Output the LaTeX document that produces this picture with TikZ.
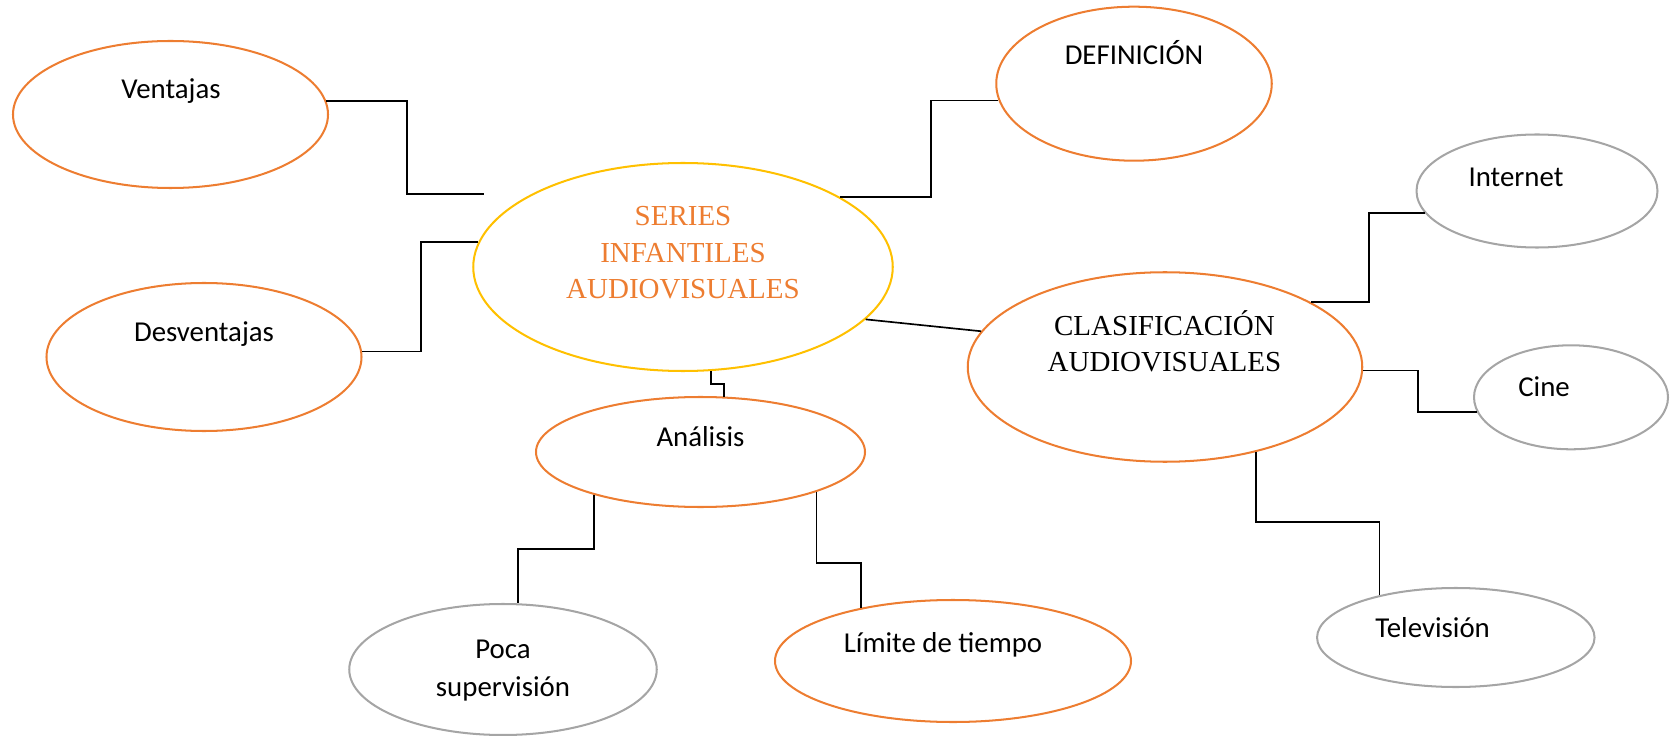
\documentclass[tikz,border=0pt]{standalone}
\usepackage{fontspec}
\setmainfont{Carlito}
\newfontfamily\romana{Liberation Serif}
\usetikzlibrary{shapes.geometric}

\definecolor{naranja}{HTML}{ED7D31}
\definecolor{dorado}{HTML}{FFC000}
\definecolor{gris}{HTML}{A5A5A5}

\tikzset{
  burbuja/.style={ellipse, draw=#1, line width=1.15pt, inner sep=0pt},
  rotulo/.style={anchor=south, inner sep=0pt, text depth=0pt, align=center,
    font=\fontsize{16.4}{21.6}\selectfont},
  titulo/.style={rotulo, font=\romana\fontsize{16.5}{20.8}\selectfont},
  linea/.style={line width=0.95pt, black}
}

\begin{document}
\begin{tikzpicture}[x=0.2mm,y=-0.2mm]
      \useasboundingbox (0,0) rectangle (1675,736);
      \node[burbuja=naranja, minimum width=63mm, minimum height=29.4mm] (vent) at (170.5,114.5) {};
      \node[burbuja=naranja, minimum width=63mm, minimum height=29.6mm] (desv) at (204,357) {};
      \node[burbuja=dorado, minimum width=83.9mm, minimum height=41.6mm] (series) at (683,267) {};
      \node[burbuja=naranja, minimum width=55.1mm, minimum height=30.8mm] (defi) at (1134,83.7) {};
      \node[burbuja=naranja, minimum width=78.9mm, minimum height=37.9mm] (clasif) at (1165,367) {};
      \node[burbuja=gris, minimum width=48.2mm, minimum height=22.6mm] (inter) at (1537,191) {};
      \node[burbuja=gris, minimum width=38.8mm, minimum height=20.8mm] (cine) at (1571,397.3) {};
      \node[burbuja=gris, minimum width=55.5mm, minimum height=19.8mm] (tele) at (1455.8,637.5) {};
      \node[burbuja=naranja, minimum width=65.8mm, minimum height=22mm] (anal) at (700.5,452) {};
      \node[burbuja=gris, minimum width=61.5mm, minimum height=26.2mm] (poca) at (503,669.5) {};
      \node[burbuja=naranja, minimum width=71.2mm, minimum height=24.4mm] (limite) at (953,661) {};

      \node[rotulo] (t_vent) at (171,99) {Ventajas};
      \node[rotulo] (t_desv) at (204,342) {Desventajas};
      \node[titulo, text=naranja] (t_series) at (683,299.3) {SERIES\\INFANTILES\\AUDIOVISUALES};
      \node[rotulo] (t_defi) at (1134,65) {DEFINICIÓN};
      \node[titulo] (t_clasif) at (1164.5,372.3) {CLASIFICACIÓN\\AUDIOVISUALES};
      \node[rotulo] (t_inter) at (1516,187) {Internet};
      \node[rotulo] (t_cine) at (1544,397) {Cine};
      \node[rotulo] (t_tele) at (1432.6,638) {Televisión};
      \node[rotulo] (t_anal) at (700.5,447) {Análisis};
      \node[rotulo] (t_poca) at (503,697) {Poca\\supervisión};
      \node[rotulo] (t_limite) at (943,653) {Límite de tiempo};

      \coordinate (fv) at (484,194);
      \begin{scope}[linea]
        \draw (vent.5) -- ++(81,0) |- (fv);
        \draw (desv.2) -- ++(59,0) |- (series.173);
        \draw (series.24) -- ++(91,0) |- (defi.187);
        \draw (series.344) -- (clasif.169);
        \draw (series.285) -- ++(0,13) -| (anal.67);
        \draw (anal.202) -- ++(0,54) -| (poca.77);
        \draw (anal.341) -- ++(0,71) -| (limite.150);
        \draw (clasif.24) -- ++(58,0) |- (inter.191);
        \draw (clasif.359) -- ++(55,0) |- (cine.189);
        \draw (clasif.317) -- ++(0,70) -| (tele.151);
      \end{scope}
    \end{tikzpicture}
\end{document}
